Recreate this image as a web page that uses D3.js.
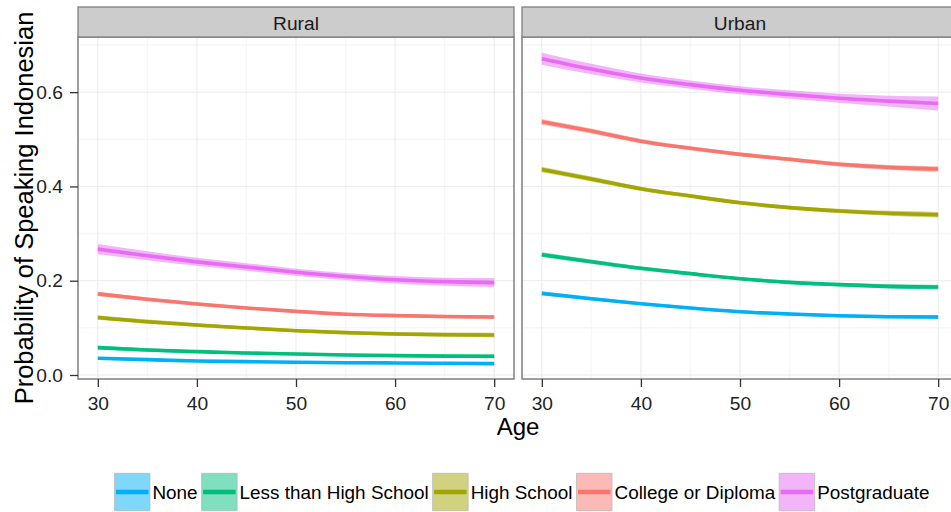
<!DOCTYPE html>
<html>
<head>
<meta charset="utf-8">
<script src="https://cdn.jsdelivr.net/npm/d3@7"></script>
<style>
  body { margin: 0; background: #fff; }
  svg { display: block; }
  text { font-family: "Liberation Sans", Arial, Helvetica, sans-serif; }
</style>
</head>
<body>
<div id="chart"></div>
<script>
const ages = [30, 35, 40, 45, 50, 55, 60, 65, 70];
const levels = ["None", "Less than High School", "High School", "College or Diploma", "Postgraduate"];
const colors = ["#00B0F6", "#00BF7D", "#A3A500", "#F8766D", "#E76BF3"];
const settings = ["Rural", "Urban"];

// fitted probability, one row per education level
const ruralFit = [
  [0.0354, 0.0325, 0.0297, 0.0283, 0.0270, 0.0260, 0.0255, 0.0248, 0.0240],
  [0.0580, 0.0530, 0.0495, 0.0467, 0.0445, 0.0424, 0.0410, 0.0400, 0.0396],
  [0.1220, 0.1130, 0.1060, 0.0997, 0.0940, 0.0898, 0.0870, 0.0855, 0.0848],
  [0.1720, 0.1605, 0.1506, 0.1420, 0.1350, 0.1290, 0.1260, 0.1240, 0.1230],
  [0.2670, 0.2530, 0.2400, 0.2290, 0.2180, 0.2090, 0.2020, 0.1980, 0.1960]
];
const urbanFit = [
  [0.1732, 0.1619, 0.1513, 0.1420, 0.1343, 0.1294, 0.1258, 0.1237, 0.1230],
  [0.2552, 0.2404, 0.2263, 0.2150, 0.2043, 0.1965, 0.1916, 0.1880, 0.1866],
  [0.4360, 0.4157, 0.3950, 0.3797, 0.3655, 0.3550, 0.3480, 0.3430, 0.3400],
  [0.5370, 0.5175, 0.4960, 0.4810, 0.4680, 0.4575, 0.4470, 0.4405, 0.4370],
  [0.6710, 0.6490, 0.6300, 0.6160, 0.6040, 0.5950, 0.5870, 0.5810, 0.5760]
];

// half width of the confidence band
const ruralBand = [
  [0.0030, 0.0025, 0.0020, 0.0020, 0.0020, 0.0020, 0.0020, 0.0022, 0.0025],
  [0.0040, 0.0035, 0.0030, 0.0030, 0.0030, 0.0030, 0.0030, 0.0035, 0.0040],
  [0.0050, 0.0045, 0.0040, 0.0035, 0.0035, 0.0035, 0.0040, 0.0045, 0.0050],
  [0.0045, 0.0040, 0.0035, 0.0032, 0.0030, 0.0030, 0.0032, 0.0035, 0.0040],
  [0.0110, 0.0095, 0.0085, 0.0080, 0.0075, 0.0075, 0.0080, 0.0085, 0.0095]
];
const urbanBand = [
  [0.0040, 0.0035, 0.0030, 0.0030, 0.0030, 0.0030, 0.0032, 0.0035, 0.0040],
  [0.0050, 0.0045, 0.0040, 0.0035, 0.0035, 0.0035, 0.0040, 0.0045, 0.0050],
  [0.0060, 0.0052, 0.0045, 0.0040, 0.0040, 0.0040, 0.0045, 0.0052, 0.0060],
  [0.0060, 0.0052, 0.0045, 0.0040, 0.0040, 0.0040, 0.0045, 0.0052, 0.0060],
  [0.0127, 0.0110, 0.0095, 0.0088, 0.0085, 0.0088, 0.0095, 0.0115, 0.0148]
];

const xTicks = [30, 40, 50, 60, 70];
const xMinor = [35, 45, 55, 65];
const yTicks = [0, 0.2, 0.4, 0.6];
const yMinor = [0.1, 0.3, 0.5, 0.7];

const width = 951, height = 512;
const panelW = 436, panelTop = 37, panelBottom = 379, stripTop = 7;
const panelLefts = [78, 522];
const panelH = panelBottom - panelTop;

const svg = d3.select("#chart").append("svg")
    .attr("width", width)
    .attr("height", height)
    .style("overflow", "hidden");

const x = d3.scaleLinear().domain([28, 72]).range([0, panelW]);
const y = d3.scaleLinear().domain([-0.0085, 0.717]).range([panelH, 0]);

const line = d3.line()
    .x(d => x(d.age))
    .y(d => y(d.p))
    .curve(d3.curveMonotoneX);

const area = d3.area()
    .x(d => x(d.age))
    .y0(d => y(d.p - d.se))
    .y1(d => y(d.p + d.se))
    .curve(d3.curveMonotoneX);

const fits = [ruralFit, urbanFit];
const bands = [ruralBand, urbanBand];

settings.forEach((name, k) => {
    const g = svg.append("g")
        .attr("transform", `translate(${panelLefts[k]},${panelTop})`);

    g.append("rect")
        .attr("width", panelW).attr("height", panelH)
        .attr("fill", "#fff");

    g.append("clipPath").attr("id", "clip" + k)
        .append("rect").attr("width", panelW).attr("height", panelH);

    // minor grid then major grid
    g.append("g").selectAll("line").data(xMinor).join("line")
        .attr("x1", d => x(d)).attr("x2", d => x(d))
        .attr("y1", 0).attr("y2", panelH)
        .attr("stroke", "#f7f7f7").attr("stroke-width", 1.5);
    g.append("g").selectAll("line").data(yMinor).join("line")
        .attr("x1", 0).attr("x2", panelW)
        .attr("y1", d => y(d)).attr("y2", d => y(d))
        .attr("stroke", "#f7f7f7").attr("stroke-width", 1.5);
    g.append("g").selectAll("line").data(xTicks).join("line")
        .attr("x1", d => x(d)).attr("x2", d => x(d))
        .attr("y1", 0).attr("y2", panelH)
        .attr("stroke", "#ebebeb").attr("stroke-width", 1);
    g.append("g").selectAll("line").data(yTicks).join("line")
        .attr("x1", 0).attr("x2", panelW)
        .attr("y1", d => y(d)).attr("y2", d => y(d))
        .attr("stroke", "#ebebeb").attr("stroke-width", 1);

    const marks = g.append("g").attr("clip-path", `url(#clip${k})`);
    levels.forEach((lev, i) => {
        const pts = ages.map((a, j) => ({ age: a, p: fits[k][i][j], se: bands[k][i][j] }));
        marks.append("path")
            .datum(pts)
            .attr("d", area)
            .attr("fill", colors[i])
            .attr("fill-opacity", 0.5);
        marks.append("path")
            .datum(pts)
            .attr("d", line)
            .attr("fill", "none")
            .attr("stroke", colors[i])
            .attr("stroke-width", 3.6);
    });

    g.append("rect")
        .attr("width", panelW).attr("height", panelH)
        .attr("fill", "none")
        .attr("stroke", "#7f7f7f").attr("stroke-width", 1.5);

    // strip
    svg.append("rect")
        .attr("x", panelLefts[k]).attr("y", stripTop)
        .attr("width", panelW).attr("height", panelTop - stripTop)
        .attr("fill", "#cccccc")
        .attr("stroke", "#7f7f7f").attr("stroke-width", 1.3);
    svg.append("text")
        .attr("x", panelLefts[k] + panelW / 2).attr("y", 30)
        .attr("text-anchor", "middle")
        .attr("font-size", 19.2)
        .attr("fill", "#1a1a1a")
        .text(name);

    // x axis
    const xa = svg.append("g")
        .attr("transform", `translate(${panelLefts[k]},${panelBottom})`)
        .call(d3.axisBottom(x).tickValues(xTicks).tickSize(8).tickPadding(9).tickFormat(d3.format("d")));
    xa.select(".domain").remove();
    xa.selectAll(".tick line").attr("stroke", "#333").attr("stroke-width", 1.3);
    xa.selectAll("text").attr("font-size", 19.2).attr("fill", "#222")
        .style("font-family", '"Liberation Sans", Arial, sans-serif');

    if (k === 0) {
        const ya = svg.append("g")
            .attr("transform", `translate(${panelLefts[k]},${panelTop})`)
            .call(d3.axisLeft(y).tickValues(yTicks).tickSize(8).tickPadding(7).tickFormat(d3.format(".1f")));
        ya.select(".domain").remove();
        ya.selectAll(".tick line").attr("stroke", "#333").attr("stroke-width", 1.3);
        ya.selectAll("text").attr("font-size", 19.2).attr("fill", "#222")
            .style("font-family", '"Liberation Sans", Arial, sans-serif');
    }
});

// axis titles
svg.append("text")
    .attr("x", 518).attr("y", 435)
    .attr("text-anchor", "middle")
    .attr("font-size", 24)
    .attr("fill", "#000")
    .text("Age");

svg.append("text")
    .attr("transform", `translate(33,${(panelTop + panelBottom) / 2}) rotate(-90)`)
    .attr("text-anchor", "middle")
    .attr("font-size", 25.5)
    .attr("fill", "#000")
    .text("Probability of Speaking Indonesian");

// legend
const keyW = 35.5, keyH = 37.4, keyTop = 473.3;
const legend = svg.append("g");
const items = levels.map((lev, i) => {
    const it = legend.append("g");
    it.append("rect")
        .attr("width", keyW).attr("height", keyH)
        .attr("fill", colors[i]).attr("fill-opacity", 0.5)
        .attr("stroke", "#b3b3b3").attr("stroke-opacity", 0.7).attr("stroke-width", 1);
    it.append("line")
        .attr("x1", 1.5).attr("x2", keyW - 1.5)
        .attr("y1", keyH / 2).attr("y2", keyH / 2)
        .attr("stroke", colors[i]).attr("stroke-width", 4.5);
    const t = it.append("text")
        .attr("x", keyW + 2.5).attr("y", keyH / 2 + 7)
        .attr("font-size", 18.9)
        .attr("fill", "#000")
        .text(lev);
    return { g: it, w: keyW + 2.5 + t.node().getComputedTextLength() };
});
const gap = 4;
const total = d3.sum(items, d => d.w) + gap * (items.length - 1);
let cx = 522 - total / 2;
items.forEach(d => {
    d.g.attr("transform", `translate(${cx},${keyTop})`);
    cx += d.w + gap;
});
</script>
</body>
</html>
